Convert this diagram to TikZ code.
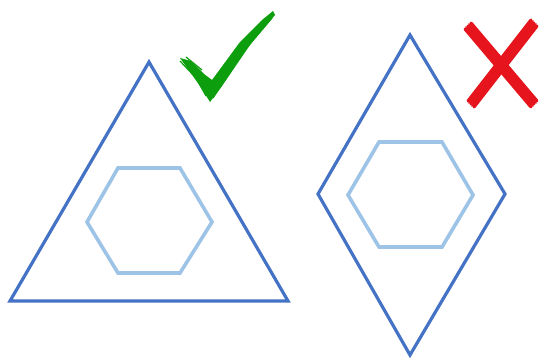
\documentclass[tikz,border=0pt]{standalone}
\usepackage{tikz}

\definecolor{edgeblue}{RGB}{68,114,196}
\definecolor{hexblue}{RGB}{157,195,230}
\definecolor{okgreen}{RGB}{12,158,12}
\definecolor{nored}{RGB}{230,20,28}

\begin{document}
\begin{tikzpicture}[x=0.5pt,y=-0.5pt]
			\useasboundingbox (0,0) rectangle (544,358);
			% good fit: hexagon in triangle
			\draw[edgeblue,line width=1.6pt,line join=miter] (149,62) -- (288,301) -- (10,301) -- cycle;
			\draw[hexblue,line width=1.8pt] (87,222) -- (118,168) -- (180,168) -- (212,222) -- (180,273) -- (118,273) -- cycle;
			% bad fit: hexagon in rhombus
			\draw[edgeblue,line width=1.6pt] (410,35) -- (505,194) -- (410,355) -- (318,194) -- cycle;
			\draw[hexblue,line width=1.8pt] (348,195) -- (379,142) -- (442,142) -- (473,195) -- (442,247) -- (379,247) -- cycle;
			% check mark
			\fill[okgreen] (180,58) -- (191,61) -- (204,74) -- (212,80) -- (240,42) -- (262,20) -- (273,11) -- (275,15) -- (252,42) -- (222,86) -- (210,102) -- (200,86) -- cycle;
			\draw[okgreen,line width=0.6pt] (180,61) -- (196,78) -- (206,96);
			\draw[okgreen,line width=0.6pt] (186,57) -- (202,70);
			\draw[okgreen,line width=0.6pt] (213,98) -- (245,50) -- (272,18);
			% cross
			\foreach \d in {-3,-1.5,0,1.5,3} {
				\draw[nored,line width=1.6pt,line cap=round] (468+\d,26-\d) -- (534+\d,104-\d);
				\draw[nored,line width=1.6pt,line cap=round] (534+\d,23+\d) -- (471+\d,104+\d);
			}
		\end{tikzpicture}
\end{document}
